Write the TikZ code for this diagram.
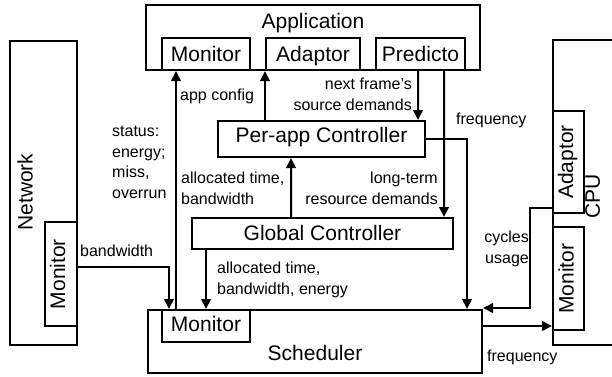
\documentclass[tikz,border=0pt]{standalone}
\usepackage{fontspec}
\usepackage{graphicx}
\setmainfont{Liberation Sans}
\usetikzlibrary{arrows.meta}

\newcommand\bigtxt{\fontsize{21bp}{25bp}\selectfont}
\newcommand\lbltxt{\fontsize{16bp}{20.5bp}\selectfont}
% upright-reading text turned by 90 degrees, with a fixed cap height and chosen depth
\newcommand\vtext[2]{\rotatebox{90}{#2\rule[-#1]{0pt}{\dimexpr 15bp+#1\relax}}}

\begin{document}
\begin{tikzpicture}[x=1bp,y=-1bp,
  box/.style={draw, line width=2bp, inner sep=0pt, rectangle},
  boxtext/.style={font=\bigtxt, text height=15bp, text depth=0bp},
  title/.style={font=\bigtxt, inner sep=0pt},
  lbl/.style={font=\lbltxt, inner sep=0pt},
  arr/.style={line width=2bp, -{Triangle[length=10bp,width=9.5bp]}},
]
\useasboundingbox (0,0) rectangle (612,376);

% application
\node[box, minimum width=334bp, minimum height=65bp] (app) at (313,37.5) {};
\node[title, anchor=base] (apptitle) at (313,28) {Application};
\node[box, boxtext, minimum width=88bp, minimum height=32bp] (appmon) at (206,54) {Monitor};
\node[box, boxtext, minimum width=94bp, minimum height=32bp] (appada) at (313,54) {Adaptor};
\node[box, boxtext, minimum width=89bp, minimum height=32bp] (apppred) at (420.5,54) {Predicto};

% controllers
\node[box, boxtext, text depth=9bp, minimum width=207bp, minimum height=36bp] (perapp) at (321.5,139) {Per-app Controller};
\node[box, boxtext, text depth=2bp, minimum width=261bp, minimum height=31bp] (glob) at (322.5,233.5) {Global Controller};

% scheduler
\node[box, minimum width=334bp, minimum height=63bp] (sched) at (315,341.5) {};
\node[title, anchor=base] (schedtitle) at (315,360) {Scheduler};
\node[box, boxtext, text depth=4bp, minimum width=88bp, minimum height=32bp] (schmon) at (206,326) {Monitor};

% network
\node[box, minimum width=67bp, minimum height=304bp] (net) at (43.5,193) {};
\node[title] (nettitle) at (25,192) {\vtext{0bp}{Network}};
\node[box, font=\bigtxt, minimum width=32bp, minimum height=104bp] (netmon) at (61,274) {\vtext{7bp}{Monitor}};

% cpu
\node[box, minimum width=77bp, minimum height=305bp] (cpu) at (591.5,192.5) {};
\node[box, font=\bigtxt, minimum width=31bp, minimum height=102bp] (cpuada) at (568.5,162) {\vtext{6bp}{Adaptor}};
\node[box, font=\bigtxt, minimum width=31bp, minimum height=103bp] (cpumon) at (568.5,278.5) {\vtext{5bp}{Monitor}};
\node[title] (cputitle) at (592.5,196) {\vtext{0bp}{CPU}};

% connectors
\draw[arr] ([xshift=15bp]schmon.north west) -- ([xshift=15bp]appmon.south west);
\draw[arr] ([yshift=7bp]netmon.east) -| ([xshift=8bp]schmon.north west);
\draw[arr] (glob.south -| schmon.north) -- (schmon.north);
\draw[arr] (perapp.north -| appada.south west) -- (appada.south west);
\draw[arr] ([xshift=-31.5bp]glob.north) -- ([xshift=-30.5bp]perapp.south);
\draw[arr] ([xshift=-2.5bp]apppred.south) -- ([xshift=96.5bp]perapp.north);
\draw[arr] ([xshift=23.5bp]apppred.south) -- ([xshift=121.5bp]glob.north);
\draw[arr] (perapp.east) -| ([xshift=-16bp]sched.north east);
\draw[arr] ([yshift=6.5bp]cpuada.south west) -- ++(-22,0) |- ([yshift=1bp]sched.north east);
\coordinate (freqout) at ([yshift=-17bp]sched.north east);
\draw[arr] (freqout) -- (freqout -| cpumon.west);

% labels (the base anchor of a multi-line label sits on its last line)
\node[lbl, anchor=base west] (lappcfg) at (180,100) {app config};
\node[lbl, anchor=base west, align=left] (lstatus) at (112,198) {status:\\energy;\\miss,\\overrun};
\node[lbl, anchor=base west, align=left] (lalloc) at (181,204) {allocated time,\\bandwidth};
\node[lbl, anchor=base east, align=right] (lnext) at (412,110) {next frame's\\source demands};
\node[lbl, anchor=base west] (lfreqtop) at (456,124) {frequency};
\node[lbl, anchor=base east, align=right] (llong) at (438,204) {long-term\\resource demands};
\node[lbl, anchor=base west, align=left] (lallocall) at (217,294) {allocated time,\\bandwidth, energy};
\node[lbl, anchor=base west] (lbw) at (80,256) {bandwidth};
\node[lbl, anchor=base east, align=right] (lcycles) at (529,263) {cycles\\usage};
\node[lbl, anchor=base west] (lfreqbot) at (487,361) {frequency};
\end{tikzpicture}
\end{document}
